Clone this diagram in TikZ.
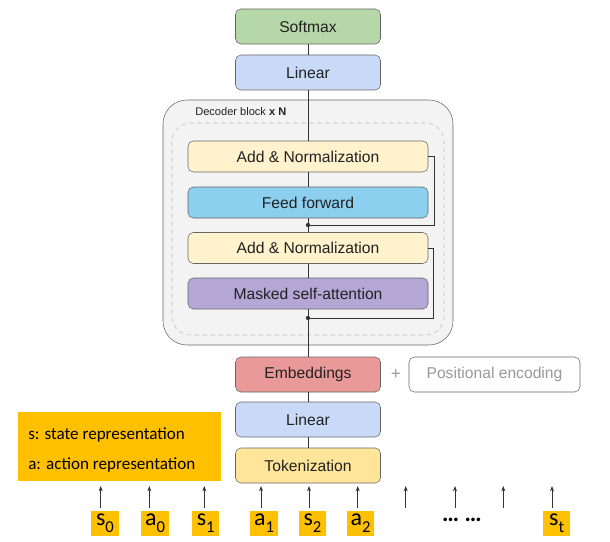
\documentclass[tikz,border=0pt]{standalone}
\usepackage{fontspec}
\setmainfont{Liberation Sans}
\newfontfamily\calib{Carlito}
\usetikzlibrary{arrows.meta}

\definecolor{boxline}{HTML}{666666}
\definecolor{linedark}{HTML}{333333}
\definecolor{textdark}{HTML}{222222}
\definecolor{blockgray}{HTML}{F3F3F3}
\definecolor{dashgray}{HTML}{BBBBBB}
\definecolor{softmaxgreen}{HTML}{B6D7A8}
\definecolor{linearblue}{HTML}{C9DAF8}
\definecolor{addnormyellow}{HTML}{FFF2CC}
\definecolor{feedblue}{HTML}{8DCFEE}
\definecolor{attnpurple}{HTML}{B4A7D6}
\definecolor{embedred}{HTML}{EA9999}
\definecolor{tokenyellow}{HTML}{FFE599}
\definecolor{posgray}{HTML}{999999}
\definecolor{legendyellow}{HTML}{FFC000}

\tikzset{
    layer/.style={draw=boxline, rounded corners=4pt, minimum width=108.75pt, minimum height=26.25pt,
        inner sep=0pt, text=textdark, font=\fontsize{11.75}{13}\selectfont},
    sublayer/.style={layer, minimum width=180pt, minimum height=23.25pt},
    tokenbox/.style={fill=legendyellow, minimum width=20.5pt, minimum height=18.5pt, inner sep=0pt,
        font=\calib\fontsize{18}{20}\selectfont},
    joint/.style={circle, fill=linedark, inner sep=0pt, minimum size=3.2pt},
    link/.style={draw=linedark, line width=0.6pt},
    feed/.style={draw=linedark, line width=0.6pt, -{Stealth[length=4pt, width=3pt]}}
}

\newcommand{\tokl}[2]{#1\raisebox{-0.28em}{\fontsize{12.5}{13}\selectfont #2}}

\begin{document}
\begin{tikzpicture}[x=0.75pt, y=-0.75pt]
    \useasboundingbox (0,0) rectangle (610,542);

    \node[draw=boxline, fill=blockgray, rounded corners=18pt, minimum width=217.5pt, minimum height=183.75pt] (block) at (308,222.5) {};
    \node[draw=dashgray, dashed, rounded corners=14pt, minimum width=204pt, minimum height=159pt] (repeat) at (308,229) {};
    \node[anchor=west, inner sep=0pt, text=textdark, font=\fontsize{8.3}{10}\selectfont] (blocklabel) at (195,112) {Decoder block \textbf{x N}};

    \node[layer, fill=softmaxgreen] (softmax) at (308,26.5) {Softmax};
    \node[layer, fill=linearblue] (linearout) at (308,72.5) {Linear};
    \node[sublayer, fill=addnormyellow] (addnormtop) at (308,156.5) {Add \& Normalization};
    \node[sublayer, fill=feedblue] (feedfwd) at (308,202.5) {Feed forward};
    \node[sublayer, fill=addnormyellow] (addnormbot) at (308,248) {Add \& Normalization};
    \node[sublayer, fill=attnpurple] (attention) at (308,293.5) {Masked self-attention};
    \node[joint] (joinff) at (308,225) {};
    \node[joint] (joinattn) at (308,318) {};

    \node[layer, fill=embedred] (embed) at (308,374.5) {Embeddings};
    \node[text=posgray, font=\fontsize{13}{15}\selectfont] (plus) at (396,374) {+};
    \node[layer, fill=white, minimum width=128.25pt, text=posgray] (posenc) at (494.5,374.5) {Positional encoding};
    \node[layer, fill=linearblue] (linearin) at (308,419.5) {Linear};
    \node[layer, fill=tokenyellow] (tokenize) at (308,465.5) {Tokenization};

    \foreach \a/\b in {tokenize/linearin, linearin/embed, embed/joinattn, joinattn/attention,
        attention/addnormbot, addnormbot/joinff, joinff/feedfwd, feedfwd/addnormtop,
        addnormtop/linearout, linearout/softmax}
        \draw[link] (\a) -- (\b);
    \draw[link] (addnormtop.east) -- ++(6,0) |- (joinff);
    \draw[link] (addnormbot.east) -- ++(5,0) |- (joinattn);

    \node[fill=legendyellow, minimum width=152.25pt, minimum height=51.75pt, anchor=north west] (legend) at (18,412) {};
    \node[anchor=west, inner sep=0pt, font=\calib\fontsize{12.8}{15}\selectfont] (legends) at (28,435) {s: state representation};
    \node[anchor=west, inner sep=0pt, font=\calib\fontsize{12.8}{15}\selectfont] (legenda) at (28,465) {a: action representation};

    \foreach \nm/\x/\lt/\sb in {s0/105/s/0, a0/155/a/0, s1/205.7/s/1, a1/264/a/1, s2/312.5/s/2, a2/360.7/a/2, st/556.7/s/t}
        \node[tokenbox] (tok\nm) at (\x,523.5) {\tokl{\lt}{\sb}};
    \node[inner sep=0pt, font=\calib\bfseries\fontsize{18}{20}\selectfont] (ellipsis) at (462,520) {\dots\ \dots};

    \foreach \nm/\x in {s0/100.7, a0/149.3, s1/204.3, a1/261, s2/309, a2/357.7, gapa/405.7, gapb/455, gapc/503.3, st/552}
    {
        \coordinate (foot\nm) at (\x,508);
        \coordinate (head\nm) at (\x,486);
        \draw[feed] (foot\nm) -- (head\nm);
    }
\end{tikzpicture}
\end{document}
